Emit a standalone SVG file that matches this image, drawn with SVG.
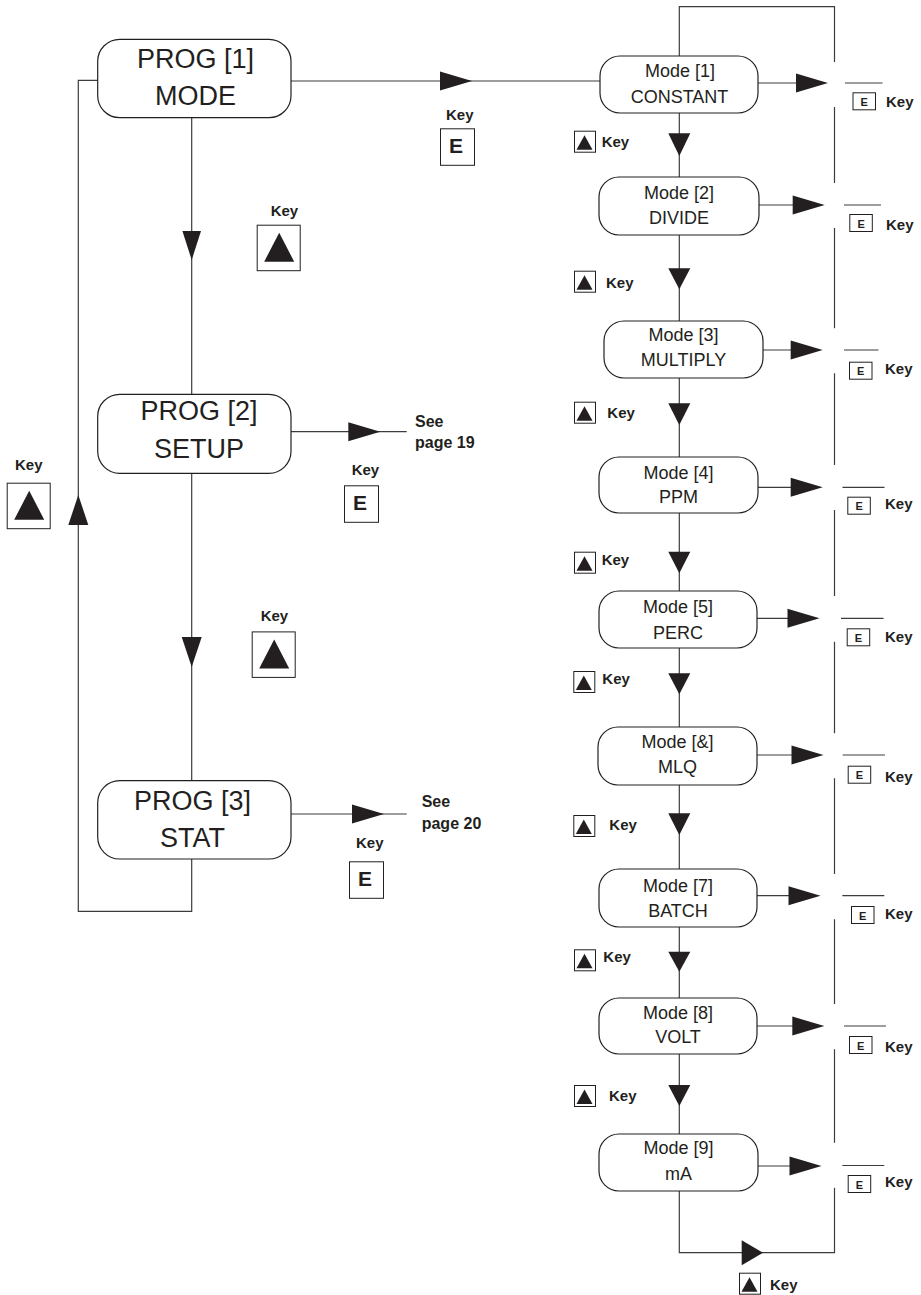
<svg xmlns="http://www.w3.org/2000/svg" xmlns:xlink="http://www.w3.org/1999/xlink" width="921" height="1295" viewBox="0 0 921 1295">
<style>
.ln{stroke:#3c3c3c;stroke-width:1.2;fill:none}
.box{fill:#fff;stroke:#231f20;stroke-width:1.2}
.ah{fill:#231f20}
.big{font-family:"Liberation Sans",Arial,sans-serif;font-size:27px;fill:#231f20;text-anchor:middle}
.md{font-family:"Liberation Sans",Arial,sans-serif;font-size:18px;fill:#231f20;text-anchor:middle}
.key{font-family:"Liberation Sans",Arial,sans-serif;font-size:15px;font-weight:bold;fill:#231f20}
.see{font-family:"Liberation Sans",Arial,sans-serif;font-size:16px;font-weight:bold;fill:#231f20}
.kb{fill:#fff;stroke:#231f20;stroke-width:1}
.ke{font-family:"Liberation Sans",Arial,sans-serif;font-size:11px;font-weight:bold;fill:#231f20;text-anchor:middle}
.keb{font-family:"Liberation Sans",Arial,sans-serif;font-size:21px;font-weight:bold;fill:#231f20;text-anchor:middle}
</style>
<defs>
<polygon id="arR" class="ah" points="0,-9.5 32,0 0,9.5"/>
<polygon id="arD" class="ah" points="-11,0 11,0 0,22"/>
<g id="kS"><rect class="kb" x="0.5" y="0.5" width="21" height="21"/><polygon class="ah" points="2.5,19 18.5,19 10.5,4.5"/></g>
<g id="kB"><rect class="kb" x="0.5" y="0.5" width="43" height="45.5"/><polygon class="ah" points="7.5,37 37.5,37 22.5,8"/></g>
<g id="eS"><rect class="kb" x="0.5" y="0.5" width="22.5" height="17"/><text class="ke" x="11.75" y="13.5">E</text></g>
<g id="eB"><rect class="kb" x="0.5" y="0.5" width="34" height="36.5"/><text class="keb" x="16" y="24.5">E</text></g>
</defs>

<g id="connectors">
<!-- left loop -->
<path class="ln" d="M97.7,80.3 H78.3 V911.3 H191.7 V859"/>
<polygon class="ah" points="68.3,525 78.3,495 88.3,525"/>
<!-- PROG vertical -->
<path class="ln" d="M191.7,117.7 V394.3 M191.7,473.3 V780.7"/>
<polygon class="ah" points="182.4,231 201,231 191.7,260"/>
<polygon class="ah" points="181.7,637 201.7,637 191.7,667"/>
<!-- PROG1 to Mode1 -->
<path class="ln" d="M291,81 H600"/>
<use xlink:href="#arR" href="#arR" x="440" y="81"/>
<!-- PROG2 / PROG3 E arrows -->
<path class="ln" d="M291,431.7 H406.7 M291,814 H406.7"/>
<use xlink:href="#arR" href="#arR" x="348.3" y="431.7"/>
<use xlink:href="#arR" href="#arR" x="352" y="814"/>
<!-- Mode column -->
<path class="ln" d="M679.3,1191 V6.7 H834.5 V62 M834.5,107 V183 M834.5,228 V328.3 M834.5,373.3 V465 M834.5,510 V596 M834.5,641.7 V733.3 M834.5,778.3 V874 M834.5,919.3 V1004 M834.5,1049.3 V1142.7 M834.5,1187.7 V1252.7 H679.3 V1191"/>
<polygon class="ah" points="741.7,1240.2 763,1252.7 741.7,1265.2"/>
<!-- down arrows -->
<polygon class="ah" points="668.3,133.3 690.3,133.3 679.3,156"/>
<polygon class="ah" points="668.3,268.3 690.3,268.3 679.3,289.3"/>
<polygon class="ah" points="668.3,403.3 690.3,403.3 679.3,425"/>
<polygon class="ah" points="668.3,551.7 690.3,551.7 679.3,573.3"/>
<polygon class="ah" points="668.3,673.3 690.3,673.3 679.3,694.3"/>
<polygon class="ah" points="668.3,813.3 690.3,813.3 679.3,835"/>
<polygon class="ah" points="668.3,951.7 690.3,951.7 679.3,971.7"/>
<polygon class="ah" points="668.3,1085 690.3,1085 679.3,1106"/>
<!-- E exits -->
<path class="ln" d="M758,83 H800 M759,205 H800 M763,350 H800 M758,487.3 H800 M757,618.3 H800 M757,755 H800 M757,895.7 H800 M757,1026 H800 M758,1166 H800"/>
<path class="ln" d="M845,83 H882.5 M844,205 H881 M844,350 H878.5 M842.5,487.3 H884.5 M841,618.3 H883.5 M842.7,755 H885 M842.3,895.7 H884.3 M844,1026 H886 M842.3,1165.5 H884.3"/>
<use xlink:href="#arR" href="#arR" x="796" y="83"/>
<use xlink:href="#arR" href="#arR" x="792.7" y="205"/>
<use xlink:href="#arR" href="#arR" x="790.7" y="350"/>
<use xlink:href="#arR" href="#arR" x="790.7" y="487.3"/>
<use xlink:href="#arR" href="#arR" x="787.5" y="618.3"/>
<use xlink:href="#arR" href="#arR" x="791.5" y="755"/>
<use xlink:href="#arR" href="#arR" x="788.5" y="895.7"/>
<use xlink:href="#arR" href="#arR" x="792.3" y="1026"/>
<use xlink:href="#arR" href="#arR" x="789.5" y="1166"/>
</g>

<!-- PROG nodes -->
<g id="prog1"><rect class="box" x="97.7" y="39.3" width="193.3" height="78.4" rx="22"/><text class="big" x="195.5" y="67.7">PROG [1]</text><text class="big" x="195.5" y="105">MODE</text></g>
<g id="prog2"><rect class="box" x="97.7" y="394.3" width="193.3" height="79" rx="22"/><text class="big" x="199" y="420">PROG [2]</text><text class="big" x="199" y="458.3">SETUP</text></g>
<g id="prog3"><rect class="box" x="97.7" y="780.7" width="193.3" height="78.3" rx="22"/><text class="big" x="192.5" y="810">PROG [3]</text><text class="big" x="192.5" y="847.3">STAT</text></g>

<!-- Mode nodes -->
<g id="mode1"><rect class="box" x="600" y="56" width="158" height="57" rx="20"/><text class="md" x="680" y="77.3">Mode [1]</text><text class="md" x="679.5" y="102.7">CONSTANT</text></g>
<g id="mode2"><rect class="box" x="599" y="177" width="160" height="58" rx="20"/><text class="md" x="679" y="199.3">Mode [2]</text><text class="md" x="679" y="224">DIVIDE</text></g>
<g id="mode3"><rect class="box" x="604" y="321" width="159" height="57" rx="20"/><text class="md" x="683.5" y="340.7">Mode [3]</text><text class="md" x="683.5" y="365.7">MULTIPLY</text></g>
<g id="mode4"><rect class="box" x="599" y="457" width="159" height="56" rx="20"/><text class="md" x="678.5" y="479.3">Mode [4]</text><text class="md" x="678.5" y="503.3">PPM</text></g>
<g id="mode5"><rect class="box" x="599" y="591" width="158" height="57" rx="20"/><text class="md" x="678" y="613.3">Mode [5]</text><text class="md" x="678" y="639">PERC</text></g>
<g id="mode6"><rect class="box" x="598" y="727" width="159" height="58" rx="20"/><text class="md" x="677.5" y="748.3">Mode [&amp;]</text><text class="md" x="677.5" y="773.3">MLQ</text></g>
<g id="mode7"><rect class="box" x="599" y="869" width="158" height="58" rx="20"/><text class="md" x="678" y="891.7">Mode [7]</text><text class="md" x="678" y="917.3">BATCH</text></g>
<g id="mode8"><rect class="box" x="599" y="998" width="158" height="56" rx="20"/><text class="md" x="678" y="1019.3">Mode [8]</text><text class="md" x="678" y="1043.3">VOLT</text></g>
<g id="mode9"><rect class="box" x="599" y="1134" width="159" height="57" rx="20"/><text class="md" x="678.5" y="1154">Mode [9]</text><text class="md" x="678.5" y="1180">mA</text></g>

<!-- Key labels left side -->
<g id="keys-left">
<text class="key" x="446" y="120">Key</text><use xlink:href="#eB" href="#eB" x="440" y="128.3"/>
<text class="key" x="270.7" y="216">Key</text><use xlink:href="#kB" href="#kB" x="256.7" y="224.7"/>
<text class="key" x="15" y="470">Key</text><use xlink:href="#kB" href="#kB" x="6.7" y="482.7"/>
<text class="key" x="351.7" y="475">Key</text><use xlink:href="#eB" href="#eB" x="344" y="485.3"/>
<text class="see" x="415" y="426.7">See</text><text class="see" x="415" y="447.7">page 19</text>
<text class="key" x="260.7" y="620.7">Key</text><use xlink:href="#kB" href="#kB" x="251.7" y="631.4"/>
<text class="key" x="356" y="847.7">Key</text><use xlink:href="#eB" href="#eB" x="349" y="861.3"/>
<text class="see" x="421.7" y="807.3">See</text><text class="see" x="421.7" y="829.3">page 20</text>
</g>

<!-- Up-key labels in Mode column -->
<g id="keys-up">
<use xlink:href="#kS" href="#kS" x="574" y="130.7"/><text class="key" x="601.7" y="147.3">Key</text>
<use xlink:href="#kS" href="#kS" x="574" y="270.7"/><text class="key" x="606" y="287.7">Key</text>
<use xlink:href="#kS" href="#kS" x="574" y="401.7"/><text class="key" x="607.3" y="418.3">Key</text>
<use xlink:href="#kS" href="#kS" x="574" y="551.7"/><text class="key" x="601.7" y="565">Key</text>
<use xlink:href="#kS" href="#kS" x="573.3" y="671"/><text class="key" x="602.3" y="684">Key</text>
<use xlink:href="#kS" href="#kS" x="573.3" y="815"/><text class="key" x="609.3" y="830">Key</text>
<use xlink:href="#kS" href="#kS" x="574" y="949.3"/><text class="key" x="603.3" y="962.3">Key</text>
<use xlink:href="#kS" href="#kS" x="574" y="1085"/><text class="key" x="609" y="1100.7">Key</text>
<use xlink:href="#kS" href="#kS" x="739" y="1272.7"/><text class="key" x="770" y="1290">Key</text>
</g>

<!-- E-key labels in Mode column -->
<g id="keys-e">
<use xlink:href="#eS" href="#eS" x="852.5" y="92.3"/><text class="key" x="886" y="106.7">Key</text>
<use xlink:href="#eS" href="#eS" x="849.3" y="214"/><text class="key" x="886" y="230">Key</text>
<use xlink:href="#eS" href="#eS" x="849" y="361.7"/><text class="key" x="885" y="374">Key</text>
<use xlink:href="#eS" href="#eS" x="847.3" y="496.7"/><text class="key" x="885" y="509.3">Key</text>
<use xlink:href="#eS" href="#eS" x="846.7" y="628.3"/><text class="key" x="885" y="641.7">Key</text>
<use xlink:href="#eS" href="#eS" x="847.7" y="765.7"/><text class="key" x="885" y="781.7">Key</text>
<use xlink:href="#eS" href="#eS" x="851" y="906"/><text class="key" x="885" y="919.3">Key</text>
<use xlink:href="#eS" href="#eS" x="849" y="1036"/><text class="key" x="885" y="1051.7">Key</text>
<use xlink:href="#eS" href="#eS" x="847.7" y="1175"/><text class="key" x="885" y="1187.3">Key</text>
</g>
</svg>
